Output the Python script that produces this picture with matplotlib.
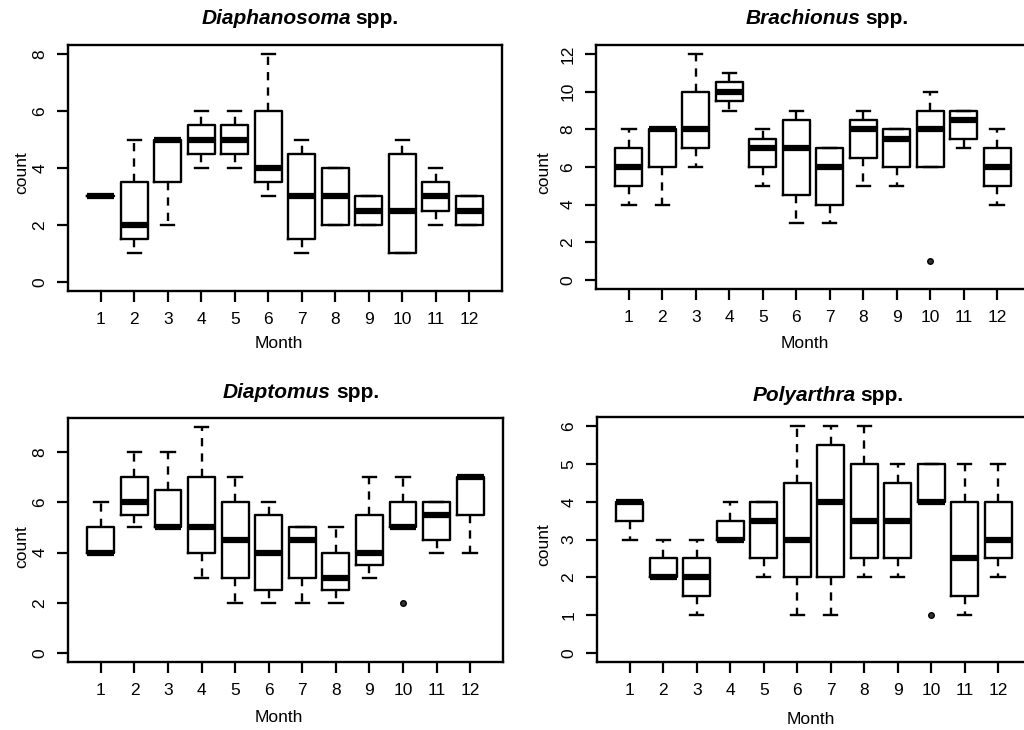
import matplotlib
matplotlib.use("Agg")
import matplotlib.pyplot as plt

plt.rcParams['font.family'] = ['Liberation Sans', 'DejaVu Sans']

W, H = 1024, 730

months = list(range(1, 13))

# Diaphanosoma spp.
diaph_lo = [3, 1, 2, 4, 4, 3, 1, 2, 2, 1, 2, 2]
diaph_q1 = [3, 1.5, 3.5, 4.5, 4.5, 3.5, 1.5, 2, 2, 1, 2.5, 2]
diaph_med = [3, 2, 5, 5, 5, 4, 3, 3, 2.5, 2.5, 3, 2.5]
diaph_q3 = [3, 3.5, 5, 5.5, 5.5, 6, 4.5, 4, 3, 4.5, 3.5, 3]
diaph_hi = [3, 5, 5, 6, 6, 8, 5, 4, 3, 5, 4, 3]
diaph_out = [[], [], [], [], [], [], [], [], [], [], [], []]

# Brachionus spp.
brach_lo = [4, 4, 6, 9, 5, 3, 3, 5, 5, 6, 7, 4]
brach_q1 = [5, 6, 7, 9.5, 6, 4.5, 4, 6.5, 6, 6, 7.5, 5]
brach_med = [6, 8, 8, 10, 7, 7, 6, 8, 7.5, 8, 8.5, 6]
brach_q3 = [7, 8, 10, 10.5, 7.5, 8.5, 7, 8.5, 8, 9, 9, 7]
brach_hi = [8, 8, 12, 11, 8, 9, 7, 9, 8, 10, 9, 8]
brach_out = [[], [], [], [], [], [], [], [], [], [1], [], []]

# Diaptomus spp.
diapt_lo = [4, 5, 5, 3, 2, 2, 2, 2, 3, 5, 4, 4]
diapt_q1 = [4, 5.5, 5, 4, 3, 2.5, 3, 2.5, 3.5, 5, 4.5, 5.5]
diapt_med = [4, 6, 5, 5, 4.5, 4, 4.5, 3, 4, 5, 5.5, 7]
diapt_q3 = [5, 7, 6.5, 7, 6, 5.5, 5, 4, 5.5, 6, 6, 7]
diapt_hi = [6, 8, 8, 9, 7, 6, 5, 5, 7, 7, 6, 7]
diapt_out = [[], [], [], [], [], [], [], [], [], [2], [], []]

# Polyarthra spp.
poly_lo = [3, 2, 1, 3, 2, 1, 1, 2, 2, 4, 1, 2]
poly_q1 = [3.5, 2, 1.5, 3, 2.5, 2, 2, 2.5, 2.5, 4, 1.5, 2.5]
poly_med = [4, 2, 2, 3, 3.5, 3, 4, 3.5, 3.5, 4, 2.5, 3]
poly_q3 = [4, 2.5, 2.5, 3.5, 4, 4.5, 5.5, 5, 4.5, 5, 4, 4]
poly_hi = [4, 3, 3, 4, 4, 6, 6, 6, 5, 5, 5, 5]
poly_out = [[], [], [], [], [], [], [], [], [], [1], [], []]

fig = plt.figure(figsize=(W / 100, H / 100), dpi=100)


def add_axes_px(left, top, right, bottom):
    return fig.add_axes([left / W, 1 - bottom / H, (right - left) / W, (bottom - top) / H])


def title_px(x, y, genus):
    # italic genus name followed by upright "spp."
    t1 = fig.text(0, 0, genus, fontsize=15, fontweight='bold', fontstyle='italic', va='center')
    t2 = fig.text(0, 0, 'spp.', fontsize=15, fontweight='bold', va='center')
    r = fig.canvas.get_renderer()
    w1 = t1.get_window_extent(r).width
    w2 = t2.get_window_extent(r).width
    gap = 5
    x0 = x - (w1 + gap + w2) / 2
    t1.set_position((x0 / W, 1 - y / H))
    t2.set_position(((x0 + w1 + gap) / W, 1 - y / H))


def panel(box, lo, q1, med, q3, hi, out, ymax, ystep, genus, title_xy, month_xy, count_xy):
    ax = add_axes_px(*box)
    stats = []
    for i in range(len(months)):
        stats.append(dict(whislo=lo[i], q1=q1[i], med=med[i], q3=q3[i],
                          whishi=hi[i], fliers=out[i]))
    ax.bxp(stats, positions=months, widths=0.8, capwidths=0.4,
           boxprops=dict(color='black', linewidth=1.7),
           whiskerprops=dict(color='black', linewidth=1.7, linestyle=(0, (3.5, 3))),
           capprops=dict(color='black', linewidth=1.7),
           medianprops=dict(color='black', linewidth=4.5, solid_capstyle='butt'),
           flierprops=dict(marker='o', markersize=4, markerfacecolor='#333333',
                           markeredgecolor='black', markeredgewidth=1))
    ax.set_xlim(0.02, 12.98)
    ax.set_ylim(-0.04 * ymax, 1.04 * ymax)
    ax.set_xticks(months)
    ax.set_xticklabels([str(m) for m in months])
    ax.set_yticks(list(range(0, ymax + 1, ystep)))
    for lbl in ax.get_yticklabels():
        lbl.set_rotation(90)
        lbl.set_va('center')
    ax.tick_params(length=8, width=1.6, pad=7, labelsize=12.5)
    for s in ax.spines.values():
        s.set_linewidth(1.7)
    title_px(title_xy[0], title_xy[1], genus)
    fig.text(month_xy[0] / W, 1 - month_xy[1] / H, 'Month', fontsize=12.5,
             ha='center', va='center')
    fig.text(count_xy[0] / W, 1 - count_xy[1] / H, 'count', fontsize=12.5,
             ha='center', va='center', rotation=90)
    return ax


panel((68, 45, 502, 291), diaph_lo, diaph_q1, diaph_med, diaph_q3, diaph_hi, diaph_out,
      8, 2, 'Diaphanosoma', (300, 18), (279, 343), (22, 173))
panel((596, 45, 1030, 289), brach_lo, brach_q1, brach_med, brach_q3, brach_hi, brach_out,
      12, 2, 'Brachionus', (827, 19), (805, 343), (544, 173))
panel((68, 418, 503, 662), diapt_lo, diapt_q1, diapt_med, diapt_q3, diapt_hi, diapt_out,
      9, 2, 'Diaptomus', (301, 393), (279, 717), (22, 547))
panel((597, 417, 1031, 662), poly_lo, poly_q1, poly_med, poly_q3, poly_hi, poly_out,
      6, 1, 'Polyarthra', (828, 395), (811, 720), (544, 545))

fig.savefig('out.png', dpi=100)
